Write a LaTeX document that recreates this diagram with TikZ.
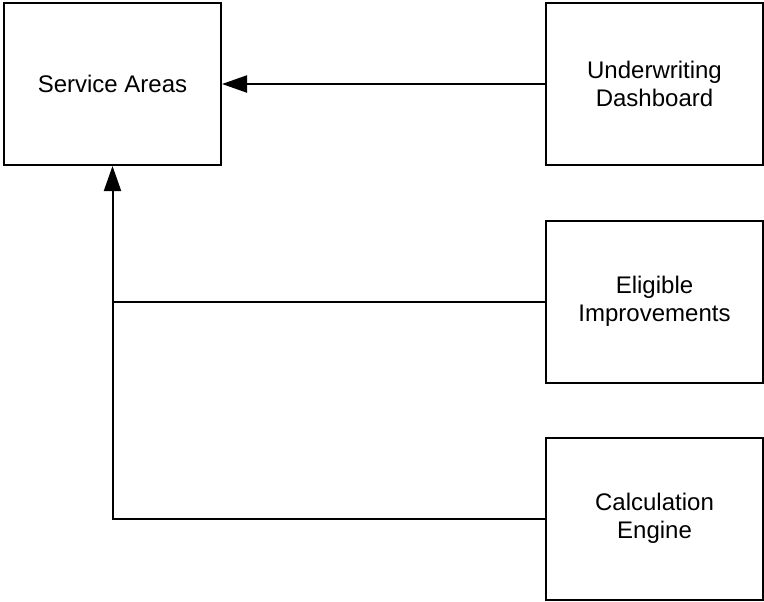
\documentclass[tikz,border=0pt]{standalone}
\usepackage{fontspec}
\setmainfont{Liberation Sans}
\usepackage{tikz}
\usetikzlibrary{arrows.meta,calc}

\tikzset{
  block/.style={draw, line width=1pt, rectangle, minimum width=108.5pt, minimum height=81pt,
    align=center, font=\fontsize{12}{14}\selectfont, inner sep=0pt},
  link/.style={line width=1pt},
  tip/.style={link, -{Triangle[length=12.5pt,width=8.5pt]}}
}

\begin{document}
\begin{tikzpicture}[x=0.5pt,y=-0.5pt]
\useasboundingbox (0,0) rectangle (764,601);
\node[block] (sa) at (112.5,84)  {Service Areas};
\node[block] (ud) at (654.5,84)  {Underwriting\\Dashboard};
\node[block] (ei) at (654.5,301.5) {Eligible\\Improvements};
\node[block] (ce) at (654.5,518.5) {Calculation\\Engine};
\coordinate (join) at (ei.west -| sa.south);
\draw[tip] (ud) -- (sa);
\draw[tip] (ce.west) -| (sa.south);
\draw[link] (ei.west) -- (join);
\end{tikzpicture}
\end{document}
